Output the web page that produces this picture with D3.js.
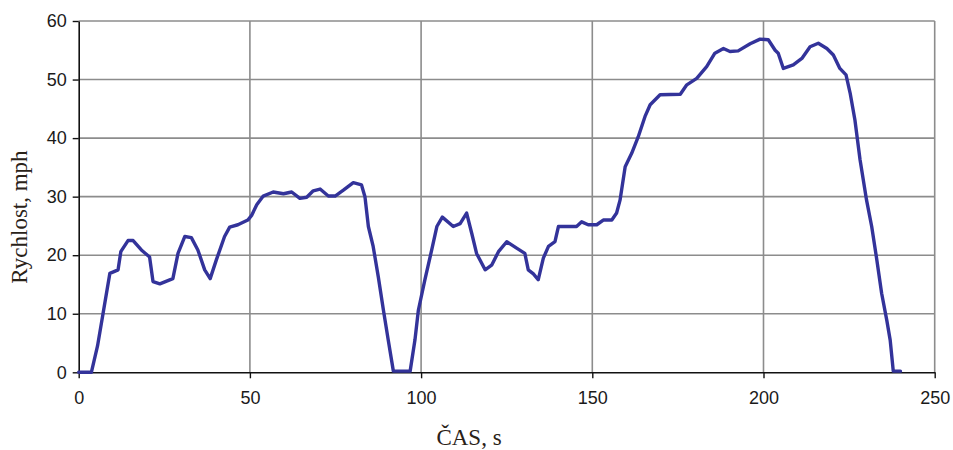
<!DOCTYPE html>
<html>
<head>
<meta charset="utf-8">
<script src="https://cdn.jsdelivr.net/npm/d3@7/dist/d3.min.js"></script>
<style>
  html, body { margin: 0; padding: 0; background: #fff; }
  svg { display: block; }
</style>
</head>
<body>
<svg id="chart" width="953" height="450"></svg>
<script>
// Speed trace over the drive cycle: time (s) and speed (mph)
const timeS = [
  0, 3.7, 5.5, 7.1, 9.1, 11.5, 12.3, 14.4, 15.9, 18.3, 20.7, 21.7, 23.7, 27.5, 29, 31, 32.9,
  34.8, 36.8, 38.4, 40.2, 42.6, 44.1, 46.5, 49.4, 50.5, 52, 53.9, 56.8, 59.8, 62.2, 64.6,
  66.6, 68.5, 70.5, 72.9, 74.9, 77.3, 80.2, 82.6, 83.6, 84.6, 86.0, 87.5, 89.0, 90.4, 91.9,
  96.8, 98.2, 99.2, 101.1, 103.1, 104.6, 106.2, 109.4, 111.4, 113.3, 114.8, 116.2, 118.7,
  120.6, 122.6, 125.0, 127.9, 130.3, 131.3, 132.8, 134.2, 135.7, 137.2, 139.1, 140.1, 145.4,
  146.9, 148.8, 151.3, 153.2, 155.7, 157.1, 158.1, 159.6, 161.5, 163.4, 165.4, 166.9, 169.8,
  175.7, 177.6, 180.5, 183.4, 185.8, 188.3, 190.2, 192.6, 196.1, 199.0, 201.4, 203.4, 204.3,
  205.8, 208.7, 211.2, 213.6, 216.0, 218.5, 220.4, 222.3, 224.1, 225.3, 226.7, 228.2, 230.1,
  231.6, 233.1, 234.5, 236.0, 237.0, 237.9, 240
];
const speedMph = [
  0, 0, 4.5, 10, 16.9, 17.5, 20.6, 22.5, 22.5, 20.9, 19.7, 15.5, 15.1, 16.0, 20.3, 23.2, 23.0,
  20.9, 17.5, 16.0, 19.2, 23.2, 24.8, 25.2, 26.0, 26.8, 28.6, 30.1, 30.8, 30.5, 30.8, 29.7,
  29.9, 31.0, 31.3, 30.1, 30.1, 31.1, 32.4, 32.0, 30.0, 24.9, 21.5, 16.3, 10.6, 5.5, 0.2,
  0.2, 5.5, 10.6, 15.8, 20.9, 24.9, 26.5, 24.9, 25.4, 27.2, 23.7, 20.3, 17.5,
  18.3, 20.6, 22.3, 21.2, 20.3, 17.5, 16.8, 15.8, 19.5, 21.5, 22.3, 24.9, 24.9,
  25.7, 25.2, 25.2, 26.0, 26.0, 27.2, 29.4, 35.1, 37.4, 40.2, 43.7, 45.7, 47.4,
  47.5, 49.1, 50.2, 52.2, 54.5, 55.3, 54.8, 54.9, 56.1, 56.9, 56.8, 55.0, 54.5,
  51.9, 52.5, 53.6, 55.6, 56.2, 55.3, 54.2, 51.9, 50.8, 47.7, 43.1, 36.3, 29.4,
  24.9, 19.2, 13.5, 8.9, 5.5, 0.2, 0.2
];
const xTicks = [0, 50, 100, 150, 200, 250];
const yTicks = [0, 10, 20, 30, 40, 50, 60];
const xTitle = "ČAS, s";
const yTitle = "Rychlost, mph";

const svg = d3.select("#chart");
const plot = { left: 78.7, right: 934.7, top: 21, bottom: 372.3 };

const x = d3.scaleLinear().domain([0, 250]).range([plot.left, plot.right]);
const y = d3.scaleLinear().domain([0, 60]).range([plot.bottom, plot.top]);

const tickFont = "'Liberation Sans', Arial, sans-serif";
const titleFont = "'Liberation Serif', 'Times New Roman', serif";

// horizontal grid
svg.append("g")
  .selectAll("line")
  .data(yTicks.filter(d => d > 0))
  .join("line")
  .attr("x1", plot.left).attr("x2", plot.right)
  .attr("y1", d => y(d)).attr("y2", d => y(d))
  .attr("stroke", "#8c8c8c").attr("stroke-width", 1.6);

// vertical grid
svg.append("g")
  .selectAll("line")
  .data(xTicks.filter(d => d > 0))
  .join("line")
  .attr("x1", d => x(d)).attr("x2", d => x(d))
  .attr("y1", plot.top).attr("y2", plot.bottom)
  .attr("stroke", "#8c8c8c").attr("stroke-width", 1.6);

// axes
const xAxis = d3.axisBottom(x).tickValues(xTicks).tickSize(6).tickPadding(13).tickSizeOuter(0);
const yAxis = d3.axisLeft(y).tickValues(yTicks).tickSize(6).tickPadding(6).tickSizeOuter(0);

const gx = svg.append("g").attr("transform", `translate(0,${plot.bottom})`).call(xAxis);
const gy = svg.append("g").attr("transform", `translate(${plot.left},0)`).call(yAxis);

[gx, gy].forEach(g => {
  g.select(".domain").attr("stroke", "#111").attr("stroke-width", 1.6);
  g.selectAll(".tick line").attr("stroke", "#111").attr("stroke-width", 1.4);
  g.selectAll(".tick text")
    .attr("fill", "#1a1a1a")
    .style("font-family", tickFont)
    .style("font-size", "18px");
});

// speed trace
const line = d3.line()
  .x((d, i) => x(timeS[i]))
  .y(d => y(d))
  .curve(d3.curveLinear);

svg.append("path")
  .datum(speedMph)
  .attr("d", line)
  .attr("fill", "none")
  .attr("stroke", "#33339a")
  .attr("stroke-width", 3.4)
  .attr("stroke-linejoin", "round")
  .attr("stroke-linecap", "round");

// axis titles
svg.append("text")
  .attr("x", 469).attr("y", 445)
  .attr("text-anchor", "middle")
  .attr("fill", "#2a2218")
  .style("font-family", titleFont)
  .style("font-size", "23px")
  .text(xTitle);

svg.append("text")
  .attr("transform", "translate(27,217) rotate(-90)")
  .attr("text-anchor", "middle")
  .attr("fill", "#2a2218")
  .style("font-family", titleFont)
  .style("font-size", "23px")
  .text(yTitle);
</script>
</body>
</html>
